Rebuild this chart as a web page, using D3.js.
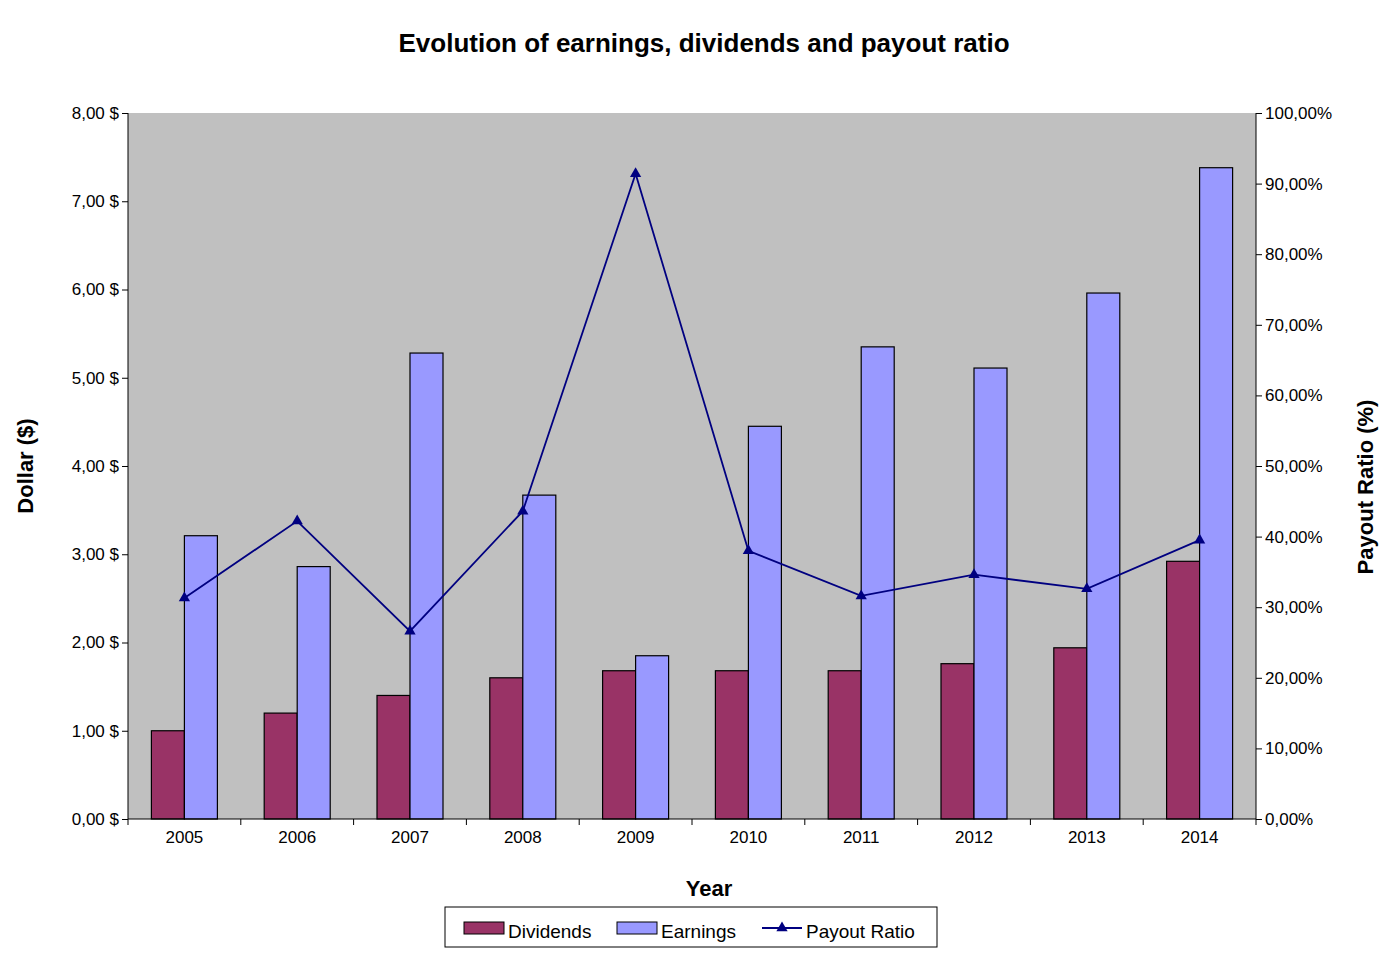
<!DOCTYPE html>
<html><head><meta charset="utf-8">
<script src="https://cdn.jsdelivr.net/npm/d3@7"></script>
<style>body{margin:0;background:#fff;font-family:"Liberation Sans",Arial,sans-serif}</style>
</head><body><svg id="chart" width="1396" height="961"></svg>
<script>
const years = ["2005","2006","2007","2008","2009","2010","2011","2012","2013","2014"];
const dividends = [1.00,1.20,1.40,1.60,1.68,1.68,1.68,1.76,1.94,2.92];
const earnings = [3.21,2.86,5.28,3.67,1.85,4.45,5.35,5.11,5.96,7.38];
const payout = [31.3,42.2,26.6,43.6,91.4,38.0,31.6,34.6,32.6,39.5];

const svg = d3.select("#chart");
const m = {left:128, right:1256, top:113, bottom:819};
const font = "Liberation Sans, Arial, sans-serif";

let x = d3.scaleBand().domain(years).range([m.left, m.right]);
let y = d3.scaleLinear().domain([0,8]).range([m.bottom, m.top]);
let y2 = d3.scaleLinear().domain([0,100]).range([m.bottom, m.top]);
const bw = 33;

svg.append("rect").attr("x",m.left).attr("y",m.top).attr("width",m.right-m.left).attr("height",m.bottom-m.top)
    .attr("fill","#c0c0c0");

// bars
svg.append("g").selectAll("rect").data(years).join("rect")
    .attr("x", d => x(d)+x.bandwidth()/2-bw).attr("width", bw)
    .attr("y", (d,i) => y(dividends[i])).attr("height", (d,i) => m.bottom-y(dividends[i]))
    .attr("fill","#993366").attr("stroke","#000").attr("stroke-width",1.2);
svg.append("g").selectAll("rect").data(years).join("rect")
    .attr("x", d => x(d)+x.bandwidth()/2).attr("width", bw)
    .attr("y", (d,i) => y(earnings[i])).attr("height", (d,i) => m.bottom-y(earnings[i]))
    .attr("fill","#9999ff").attr("stroke","#000").attr("stroke-width",1.2);

// line
let lineGen = d3.line().x((d,i) => x(years[i])+x.bandwidth()/2).y(d => y2(d));
svg.append("path").attr("d", lineGen(payout)).attr("fill","none").attr("stroke","#000080").attr("stroke-width",1.8);
svg.append("g").selectAll("path").data(payout).join("path")
    .attr("d", d3.symbol().type(d3.symbolTriangle).size(55))
    .attr("transform", (d,i) => "translate("+(x(years[i])+x.bandwidth()/2)+","+y2(d)+")")
    .attr("fill","#000080");

// axes
let fmtD = d => d.toFixed(2).replace(".",",")+" $";
let fmtP = d => d.toFixed(2).replace(".",",")+"%";
let ya = svg.append("g").attr("transform","translate("+m.left+",0)")
    .call(d3.axisLeft(y).ticks(8).tickFormat(fmtD).tickSize(6));
let ya2 = svg.append("g").attr("transform","translate("+m.right+",0)")
    .call(d3.axisRight(y2).tickValues(d3.range(0,101,10)).tickFormat(fmtP).tickSize(6));
let xa = svg.append("g").attr("transform","translate(0,"+m.bottom+")")
    .call(d3.axisBottom(x).tickSize(0).tickPadding(18));
svg.append("g").selectAll("line").data(d3.range(0,11)).join("line")
    .attr("x1", i => m.left+i*x.step()).attr("x2", i => m.left+i*x.step())
    .attr("y1", m.bottom).attr("y2", m.bottom+6).attr("stroke","#000");
[ya,ya2,xa].forEach(a => {
    a.selectAll("text").attr("font-size",17).attr("font-family",font).attr("fill","#000");
    a.selectAll("path,line").attr("stroke","#000");
    a.select(".domain").attr("d", null);
});
xa.selectAll(".tick text").attr("dy","0.35em");
svg.append("line").attr("x1",m.left).attr("x2",m.left).attr("y1",m.top).attr("y2",m.bottom).attr("stroke","#000");
svg.append("line").attr("x1",m.right).attr("x2",m.right).attr("y1",m.top).attr("y2",m.bottom).attr("stroke","#000");
svg.append("line").attr("x1",m.left).attr("x2",m.right).attr("y1",m.bottom).attr("y2",m.bottom).attr("stroke","#000");

// titles
svg.append("text").attr("x",704).attr("y",52).attr("text-anchor","middle")
    .attr("font-size",26).attr("font-weight","bold").attr("font-family",font).text("Evolution of earnings, dividends and payout ratio");
svg.append("text").attr("x",709).attr("y",896).attr("text-anchor","middle")
    .attr("font-size",22).attr("font-weight","bold").attr("font-family",font).text("Year");
svg.append("text").attr("transform","translate(33,466) rotate(-90)").attr("text-anchor","middle")
    .attr("font-size",22).attr("font-weight","bold").attr("font-family",font).text("Dollar ($)");
svg.append("text").attr("transform","translate(1373,487) rotate(-90)").attr("text-anchor","middle")
    .attr("font-size",22).attr("font-weight","bold").attr("font-family",font).text("Payout Ratio (%)");

// legend
let lg = svg.append("g");
lg.append("rect").attr("x",445).attr("y",907).attr("width",492).attr("height",40).attr("fill","#fff").attr("stroke","#000");
lg.append("rect").attr("x",464).attr("y",922).attr("width",40).attr("height",12).attr("fill","#993366").attr("stroke","#000");
lg.append("text").attr("x",508).attr("y",938).attr("font-size",19).attr("font-family",font).text("Dividends");
lg.append("rect").attr("x",617).attr("y",922).attr("width",40).attr("height",12).attr("fill","#9999ff").attr("stroke","#000");
lg.append("text").attr("x",661).attr("y",938).attr("font-size",19).attr("font-family",font).text("Earnings");
lg.append("line").attr("x1",762).attr("x2",802).attr("y1",928).attr("y2",928).attr("stroke","#000080").attr("stroke-width",1.8);
lg.append("path").attr("d",d3.symbol().type(d3.symbolTriangle).size(55)).attr("transform","translate(782,928)").attr("fill","#000080");
lg.append("text").attr("x",806).attr("y",938).attr("font-size",19).attr("font-family",font).text("Payout Ratio");
</script></body></html>
